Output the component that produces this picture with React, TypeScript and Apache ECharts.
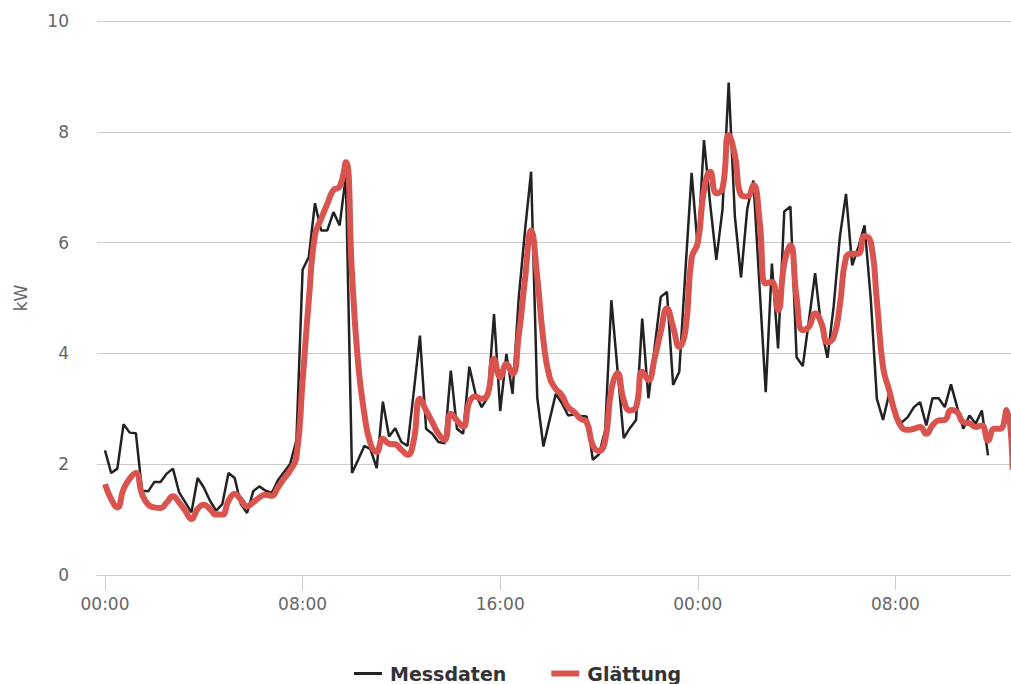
import React, { useEffect, useRef } from "react";
import * as echarts from "echarts";

// 15-minute samples, starting 00:00
const stepHours = 0.25;

const messdaten = [
  2.25, 1.84, 1.92, 2.72, 2.57, 2.56, 1.52, 1.51, 1.68, 1.68,
  1.83, 1.92, 1.49, 1.31, 1.13, 1.75, 1.58, 1.34, 1.16, 1.28,
  1.84, 1.75, 1.28, 1.12, 1.51, 1.6, 1.52, 1.48, 1.71, 1.86,
  2.01, 2.43, 5.51, 5.74, 6.71, 6.22, 6.22, 6.55, 6.31, 7.2,
  1.84, 2.08, 2.33, 2.27, 1.93, 3.13, 2.5, 2.65, 2.4, 2.33,
  3.3, 4.32, 2.64, 2.55, 2.4, 2.38, 3.69, 2.64, 2.55, 3.76,
  3.27, 3.03, 3.21, 4.71, 2.96, 3.99, 3.27, 5.0, 6.2, 7.28,
  3.2, 2.32, 2.8, 3.27, 3.1, 2.88, 2.9, 2.87, 2.86, 2.08,
  2.18, 2.61, 4.96, 3.7, 2.47, 2.65, 2.8, 4.63, 3.19, 4.1,
  5.02, 5.11, 3.43, 3.67, 5.5, 7.26, 5.9, 7.85, 6.7, 5.69,
  6.6, 8.89, 6.48, 5.37, 6.6, 7.12, 5.2, 3.3, 5.62, 4.09,
  6.56, 6.65, 3.93, 3.77, 4.6, 5.45, 4.45, 3.92, 4.85, 6.1,
  6.88, 5.59, 5.92, 6.31, 5.0, 3.18, 2.8, 3.28, 2.9, 2.75,
  2.85, 3.03, 3.12, 2.7, 3.19, 3.19, 3.03, 3.44, 3.03, 2.64,
  2.88, 2.73, 2.97, 2.16,
];

const glaettung = [
  1.64, 1.37, 1.22, 1.55, 1.74, 1.84, 1.46, 1.27, 1.22, 1.21,
  1.31, 1.42, 1.31, 1.16, 1.01, 1.19, 1.27, 1.19, 1.09, 1.09,
  1.34, 1.46, 1.36, 1.24, 1.31, 1.4, 1.45, 1.43, 1.58, 1.74,
  1.89, 2.13, 3.5, 4.95, 6.13, 6.43, 6.7, 6.95, 7.01, 7.45,
  5.44, 3.81, 2.91, 2.37, 2.22, 2.46, 2.37, 2.36, 2.26, 2.17,
  2.43, 3.18, 2.97, 2.76, 2.55, 2.44, 2.91, 2.79, 2.68, 3.12,
  3.22, 3.18, 3.27, 3.9, 3.57, 3.81, 3.63, 4.32, 5.32, 6.22,
  5.38, 4.23, 3.57, 3.36, 3.24, 3.03, 2.94, 2.82, 2.76, 2.34,
  2.24, 2.43, 3.34, 3.64, 3.16, 2.97, 3.03, 3.67, 3.52, 3.91,
  4.39, 4.81, 4.48, 4.12, 4.42, 5.72, 6.0, 6.95, 7.28, 6.89,
  6.98, 7.94, 7.58, 6.86, 6.83, 7.04, 6.4, 5.26, 5.29, 4.78,
  5.62, 5.95, 5.0, 4.42, 4.48, 4.72, 4.55, 4.2, 4.29, 4.87,
  5.73, 5.8, 5.8, 6.12, 6.02, 4.95, 3.75, 3.33, 2.91, 2.67,
  2.62, 2.64, 2.67, 2.55, 2.7, 2.79, 2.8, 2.98, 2.94, 2.76,
  2.74, 2.67, 2.7, 2.43, 2.64, 2.64, 2.98, 1.9,
];

const xTickHours = [0, 8, 16, 24, 32];
const xMin = -0.324;
const xMax = 36.68;
const yMin = 0;
const yMax = 10;
const yInterval = 2;

const seriesNames = ["Messdaten", "Glättung"];
const FONT = "'DejaVu Sans', sans-serif";
const BLACK = "#222";
const RED = "#d9534f";

function toPairs(vals: number[]) {
  return vals.map((v, i) => [i * stepHours, v]);
}

function fmtHour(v: number) {
  const h = ((Math.round(v) % 24) + 24) % 24;
  return (h < 10 ? "0" : "") + h + ":00";
}

export default function App() {
  const ref = useRef<HTMLDivElement>(null);
  useEffect(() => {
    if (!ref.current) return;
    const chart = echarts.init(ref.current, null, { renderer: "svg" });
    chart.setOption({
      animation: false,
      textStyle: { fontFamily: FONT },
      grid: { left: 97, right: 0, top: 21, bottom: 109, containLabel: false },
      legend: {
        data: [
          { name: seriesNames[0], icon: "path://M0,0 H28 V3 H0 Z", itemStyle: { color: BLACK } },
          { name: seriesNames[1], icon: "path://M0,0 H28 V6 H0 Z", itemStyle: { color: RED } },
        ],
        symbolKeepAspect: true,
        top: 659,
        left: 349,
        itemWidth: 28,
        itemHeight: 14,
        itemGap: 45,
        textStyle: {
          fontFamily: FONT,
          fontSize: 19,
          fontWeight: "bold",
          color: "#333",
          padding: [0, 0, 0, 3],
        },
      },
      xAxis: {
        type: "value",
        min: xMin,
        max: xMax,
        splitLine: { show: false },
        axisLine: { show: true, lineStyle: { color: "#ccc", width: 1 } },
        axisTick: {
          show: true,
          customValues: xTickHours,
          length: 15,
          lineStyle: { color: "#ccc" },
        },
        axisLabel: {
          customValues: xTickHours,
          formatter: (v: number) => fmtHour(v),
          color: "#666",
          fontSize: 17,
          fontFamily: FONT,
          margin: 20,
        },
      },
      yAxis: {
        type: "value",
        min: yMin,
        max: yMax,
        interval: yInterval,
        name: "kW",
        nameLocation: "middle",
        nameGap: 68,
        nameTextStyle: { color: "#666", fontSize: 17, fontFamily: FONT },
        axisLine: { show: false },
        axisTick: { show: false },
        splitLine: { lineStyle: { color: "#ccc", width: 1 } },
        axisLabel: { color: "#666", fontSize: 17, fontFamily: FONT, margin: 28 },
      },
      series: [
        {
          name: seriesNames[0],
          type: "line",
          data: toPairs(messdaten),
          showSymbol: false,
          symbol: "none",
          lineStyle: { color: BLACK, width: 2.5 },
          itemStyle: { color: BLACK },
          z: 2,
        },
        {
          name: seriesNames[1],
          type: "line",
          data: toPairs(glaettung),
          showSymbol: false,
          symbol: "none",
          smooth: 0.5,
          lineStyle: { color: RED, width: 6 },
          itemStyle: { color: RED },
          z: 3,
        },
      ],
    });
    return () => chart.dispose();
  }, []);
  return (
    <div
      ref={ref}
      style={{ position: "absolute", left: 0, top: 0, width: 1011, height: 684 }}
    />
  );
}
